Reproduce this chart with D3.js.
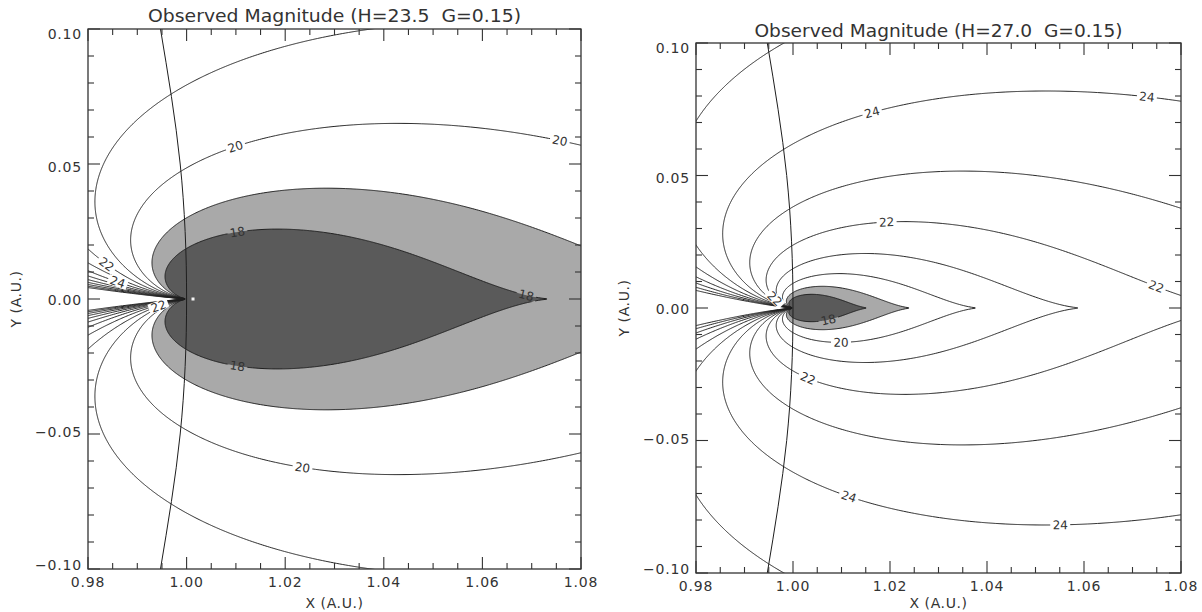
<!DOCTYPE html>
<html>
<head>
<meta charset="utf-8">
<script src="https://cdn.jsdelivr.net/npm/d3@7"></script>
<style>
  body { margin: 0; background: #fff; }
  svg { display: block; }
  text { font-family: "DejaVu Sans", sans-serif; fill: #333; white-space: pre; }
</style>
</head>
<body>
<div id="chart"></div>
<script>
// ---- chart values ----
const absMagnitude = [23.5, 27.0];
const slopeG = [0.15, 0.15];
const fillLevels = [19, 18];
const fillColors = ["#a9a9a9", "#5a5a5a"];
const lineLevels = [18, 19, 20, 21, 22, 23, 24, 25, 26, 27, 28, 29, 30];

const xTickValues = [0.98, 1.00, 1.02, 1.04, 1.06, 1.08];
const xTickLabels = ["0.98", "1.00", "1.02", "1.04", "1.06", "1.08"];
const yTickValues = [0.10, 0.05, 0.00, -0.05, -0.10];
const yTickLabels = ["0.10", "0.05", "0.00", "\u22120.05", "\u22120.10"];

// Earth orbit line
const orbitY = [0.10, 0.05, 0.00, -0.05, -0.10];
const orbitX = [0.9947, 0.9987, 1.0000, 0.9987, 0.9947];

// contour label spots (level, x, y)
const leftLabelLevels = [20, 20, 18, 18, 18, 20, 22, 24, 22];
const leftLabelX = [1.0092, 1.0757, 1.0102, 1.069, 1.0102, 1.0236, 0.9839, 0.986, 0.9944];
const leftLabelY = [0.0597, 0.0589, 0.0248, 0.002, -0.0252, -0.0622, 0.0133, 0.0063, -0.0033];

const rightLabelLevels = [24, 24, 22, 22, 18, 20, 22, 24, 24, 22];
const rightLabelX = [1.0169, 1.073, 1.0196, 1.075, 1.0072, 1.0099, 1.0031, 1.0138, 1.055, 0.9955];
const rightLabelY = [0.0702, 0.0796, 0.0226, 0.0087, -0.0038, -0.0128, -0.026, -0.0589, -0.0808, 0.0022];

const earthMarkX = [1.0013, null];

const titles = [
  "Observed Magnitude (H=23.5  G=0.15)",
  "Observed Magnitude (H=27.0  G=0.15)"
];

// ---- layout ----
const width = 1202;
const height = 612;

const panels = [
  { x0: 88, x1: 581, y0: 29, y1: 569, titleY: 22, titleLen: 373 },
  { x0: 696, x1: 1181, y0: 43, y1: 573, titleY: 37, titleLen: 368 }
];

const svg = d3.select("#chart")
  .append("svg")
  .attr("width", width)
  .attr("height", height);

// H-G apparent magnitude of an object at (x, y), Sun at origin, Earth at (1, 0)
function magnitude(x, y, H, G) {
  const r = Math.hypot(x, y);
  const ex = 1 - x, ey = -y;
  const delta = Math.hypot(ex, ey);
  let c = (-x * ex + -y * ey) / (r * delta);
  c = Math.max(-1, Math.min(1, c));
  const alpha = Math.acos(c);
  const t = Math.tan(alpha / 2);
  const phi1 = Math.exp(-3.33 * Math.pow(t, 0.63));
  const phi2 = Math.exp(-1.87 * Math.pow(t, 1.22));
  let v = H + 5 * Math.log10(r * delta) - 2.5 * Math.log10((1 - G) * phi1 + G * phi2);
  if (!isFinite(v)) v = 60;
  return Math.max(-20, Math.min(60, v));
}

panels.forEach((p, idx) => {

  const H = absMagnitude[idx];
  const G = slopeG[idx];

  const xScale = d3.scaleLinear().domain([0.98, 1.08]).range([p.x0, p.x1]);
  const yScale = d3.scaleLinear().domain([-0.10, 0.10]).range([p.y1, p.y0]);

  // grid, slightly larger than the plot and offset so Earth sits between nodes
  const step = 0.0002;
  const gx0 = 0.9751;
  const gy0 = -0.1051;
  const nx = 560;
  const ny = 1060;
  const values = new Float64Array(nx * ny);
  for (let j = 0; j < ny; j++) {
    for (let i = 0; i < nx; i++) {
      values[j * nx + i] = -magnitude(gx0 + i * step, gy0 + j * step, H, G);
    }
  }

  const contours = d3.contours().size([nx, ny]);

  const toPx = (px, py) => [
    xScale(gx0 + (px - 0.5) * step),
    yScale(gy0 + (py - 0.5) * step)
  ];

  const path = d3.geoPath(d3.geoTransform({
    point(px, py) {
      const q = toPx(px, py);
      this.stream.point(q[0], q[1]);
    }
  }));

  const clipId = "clip" + idx;
  svg.append("clipPath")
    .attr("id", clipId)
    .append("rect")
    .attr("x", p.x0)
    .attr("y", p.y0)
    .attr("width", p.x1 - p.x0)
    .attr("height", p.y1 - p.y0);

  const plot = svg.append("g").attr("clip-path", `url(#${clipId})`);

  // filled bands
  fillLevels.forEach((lev, k) => {
    plot.append("path")
      .attr("d", path(contours.contour(values, -lev)))
      .attr("fill", fillColors[k])
      .attr("stroke", "none");
  });

  // label placement
  const labelLevels = idx === 0 ? leftLabelLevels : rightLabelLevels;
  const labelX = idx === 0 ? leftLabelX : rightLabelX;
  const labelY = idx === 0 ? leftLabelY : rightLabelY;

  const contourCache = {};
  lineLevels.forEach(lev => {
    contourCache[lev] = contours.contour(values, -lev);
  });

  const placed = labelLevels.map((lev, k) => {
    const tx = xScale(labelX[k]);
    const ty = yScale(labelY[k]);
    let best = null;
    contourCache[lev].coordinates.forEach(poly => {
      poly.forEach(ring => {
        const pts = ring.map(c => toPx(c[0], c[1]));
        pts.forEach((q, i) => {
          const d = (q[0] - tx) ** 2 + (q[1] - ty) ** 2;
          if (!best || d < best.d) {
            const a = pts[Math.max(0, i - 3)];
            const b = pts[Math.min(pts.length - 1, i + 3)];
            best = { d, x: q[0], y: q[1], ang: Math.atan2(b[1] - a[1], b[0] - a[0]) * 180 / Math.PI };
          }
        });
      });
    });
    let ang = best.ang;
    if (ang > 90) ang -= 180;
    if (ang < -90) ang += 180;
    return { lev, x: best.x, y: best.y, ang };
  });

  // mask to open gaps in the lines under the labels
  const maskId = "mask" + idx;
  const mask = svg.append("mask")
    .attr("id", maskId)
    .attr("maskUnits", "userSpaceOnUse")
    .attr("x", 0).attr("y", 0).attr("width", width).attr("height", height);
  mask.append("rect")
    .attr("x", 0).attr("y", 0).attr("width", width).attr("height", height)
    .attr("fill", "white");
  placed.forEach(l => {
    mask.append("rect")
      .attr("x", -10).attr("y", -5)
      .attr("width", 20).attr("height", 10)
      .attr("fill", "black")
      .attr("transform", `translate(${l.x},${l.y}) rotate(${l.ang})`);
  });

  const lines = plot.append("g").attr("mask", `url(#${maskId})`);

  lineLevels.forEach(lev => {
    lines.append("path")
      .attr("d", path(contourCache[lev]))
      .attr("fill", "none")
      .attr("stroke", "#1e1e1e")
      .attr("stroke-width", 1);
  });

  plot.selectAll(".clabel")
    .data(placed)
    .enter()
    .append("text")
    .attr("class", "clabel")
    .attr("transform", d => `translate(${d.x},${d.y}) rotate(${d.ang})`)
    .attr("text-anchor", "middle")
    .attr("dy", "0.36em")
    .style("font-size", "12px")
    .text(d => d.lev);

  // Earth orbit
  const orbit = orbitY.map((yy, k) => [orbitX[k], yy]);
  plot.append("path")
    .attr("d", d3.line()
      .x(d => xScale(d[0]))
      .y(d => yScale(d[1]))
      .curve(d3.curveNatural)(orbit))
    .attr("fill", "none")
    .attr("stroke", "#1e1e1e")
    .attr("stroke-width", 1);

  if (earthMarkX[idx] !== null) {
    plot.append("rect")
      .attr("x", xScale(earthMarkX[idx]) - 1.5)
      .attr("y", yScale(0) - 1.5)
      .attr("width", 3)
      .attr("height", 3)
      .attr("fill", "#f4f4f4");
  }

  // frame and inward ticks
  const axes = svg.append("g");
  axes.append("rect")
    .attr("x", p.x0).attr("y", p.y0)
    .attr("width", p.x1 - p.x0).attr("height", p.y1 - p.y0)
    .attr("fill", "none")
    .attr("stroke", "#333")
    .attr("stroke-width", 1.3);

  const xMinor = xScale.ticks(20);
  const yMinor = yScale.ticks(20);
  const isMajorX = v => xTickValues.some(t => Math.abs(t - v) < 1e-6);
  const isMajorY = v => yTickValues.some(t => Math.abs(t - v) < 1e-6);

  xMinor.forEach(v => {
    const len = isMajorX(v) ? 12 : 6;
    const px = xScale(v);
    axes.append("line").attr("x1", px).attr("x2", px).attr("y1", p.y1).attr("y2", p.y1 - len);
    axes.append("line").attr("x1", px).attr("x2", px).attr("y1", p.y0).attr("y2", p.y0 + len);
  });
  yMinor.forEach(v => {
    const len = isMajorY(v) ? 12 : 6;
    const py = yScale(v);
    axes.append("line").attr("x1", p.x0).attr("x2", p.x0 + len).attr("y1", py).attr("y2", py);
    axes.append("line").attr("x1", p.x1).attr("x2", p.x1 - len).attr("y1", py).attr("y2", py);
  });
  axes.selectAll("line").attr("stroke", "#333").attr("stroke-width", 1.1);

  // tick labels
  axes.selectAll(".xlab")
    .data(xTickValues)
    .enter()
    .append("text")
    .attr("x", d => xScale(d))
    .attr("y", p.y1 + 18)
    .attr("text-anchor", "middle")
    .style("font-size", "14px")
    .style("letter-spacing", "0.8px")
    .text((d, i) => xTickLabels[i]);

  const yLabelScale = d3.scaleLinear().domain([-0.10, 0.10]).range([p.y1 - 4, p.y0 + 5]);
  axes.selectAll(".ylab")
    .data(yTickValues)
    .enter()
    .append("text")
    .attr("x", p.x0 - 6)
    .attr("y", d => yLabelScale(d))
    .attr("dy", "0.36em")
    .attr("text-anchor", "end")
    .style("font-size", "14px")
    .style("letter-spacing", "0.8px")
    .text((d, i) => yTickLabels[i]);

  // titles
  svg.append("text")
    .attr("x", (p.x0 + p.x1) / 2)
    .attr("y", p.titleY)
    .attr("text-anchor", "middle")
    .attr("textLength", p.titleLen)
    .attr("lengthAdjust", "spacingAndGlyphs")
    .style("font-size", "17px")
    .text(titles[idx]);

  svg.append("text")
    .attr("x", (p.x0 + p.x1) / 2)
    .attr("y", 608)
    .attr("text-anchor", "middle")
    .style("font-size", "14px")
    .style("letter-spacing", "0.6px")
    .text("X (A.U.)");

  svg.append("text")
    .attr("transform", `translate(${p.x0 - 67},${(p.y0 + p.y1) / 2}) rotate(-90)`)
    .attr("text-anchor", "middle")
    .style("font-size", "14px")
    .style("letter-spacing", "0.6px")
    .text("Y (A.U.)");
});
</script>
</body>
</html>
